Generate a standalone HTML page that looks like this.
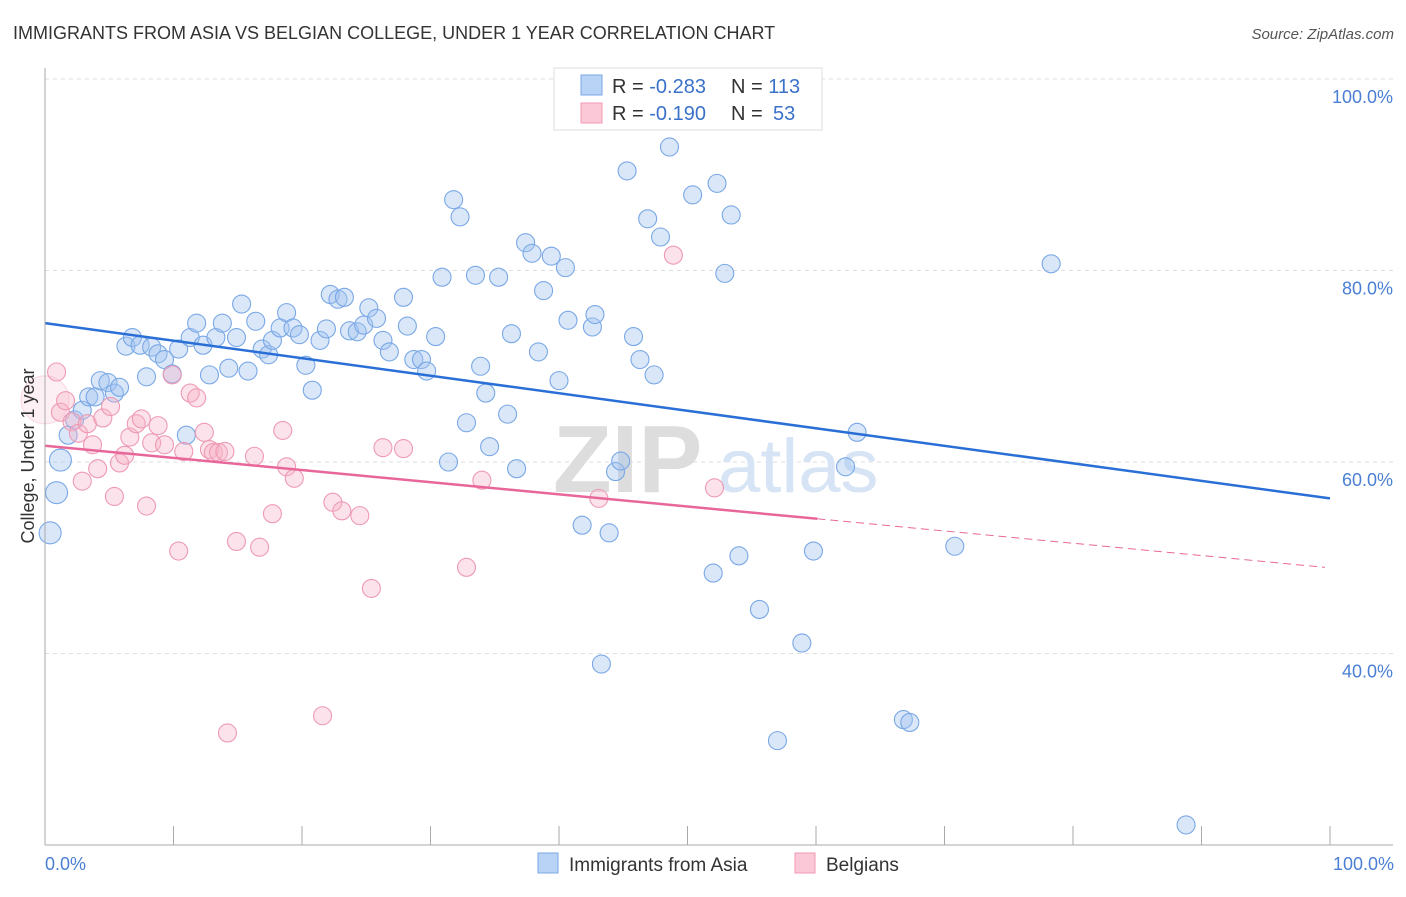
<!DOCTYPE html>
<html><head><meta charset="utf-8"><style>
body{margin:0;background:#fff;font-family:"Liberation Sans",sans-serif}
svg text{font-family:"Liberation Sans",sans-serif}
</style></head><body>
<svg id="chart" width="1406" height="892" xmlns="http://www.w3.org/2000/svg">
<text x="13" y="39" font-size="18" fill="#333">IMMIGRANTS FROM ASIA VS BELGIAN COLLEGE, UNDER 1 YEAR CORRELATION CHART</text>
<text x="1394" y="39" font-size="15" fill="#555" font-style="italic" text-anchor="end">Source: ZipAtlas.com</text>
<g id="grid"></g>
<g><text x="553" y="492" font-size="96" font-family="Liberation Serif" fill="#ddd" font-weight="bold">ZIP</text><text x="718" y="492" font-size="76" fill="#d6e4f5">atlas</text></g>
<g id="marks"></g>
<line x1="45" y1="68" x2="45" y2="845" stroke="#aaa"/>
<line x1="45" y1="845" x2="1393" y2="845" stroke="#aaa"/>
<text transform="translate(34,456) rotate(-90)" font-size="18" fill="#333" text-anchor="middle">College, Under 1 year</text>
<text x="45" y="870" font-size="18" fill="#4a7fd4">0.0%</text>
<text x="1394" y="870" font-size="18" fill="#4a7fd4" text-anchor="end">100.0%</text>
<g>
<rect x="554" y="68" width="268" height="62" fill="#fff" stroke="#ddd"/>
<rect x="581" y="75" width="21" height="20" fill="#b8d3f5" stroke="#7aa8e6"/>
<rect x="581" y="103" width="21" height="20" fill="#fbc8d7" stroke="#f09ab3"/>
<text x="612" y="93" font-size="20" fill="#333">R = <tspan fill="#3a72c9">-0.283</tspan><tspan x="731">N = </tspan><tspan fill="#3a72c9">113</tspan></text>
<text x="612" y="120" font-size="20" fill="#333">R = <tspan fill="#3a72c9">-0.190</tspan><tspan x="731">N = </tspan><tspan x="773" fill="#3a72c9">53</tspan></text>
</g>
<g>
<rect x="538" y="853" width="20" height="20" fill="#b8d3f5" stroke="#7aa8e6"/>
<text x="569" y="871" font-size="19" fill="#333">Immigrants from Asia</text>
<rect x="795" y="853" width="20" height="20" fill="#fbc8d7" stroke="#f09ab3"/>
<text x="826" y="871" font-size="19" fill="#333">Belgians</text>
</g>
</svg>
<script>
const yTicks=[100,80,60,40];
const yTickLabels=["100.0%","80.0%","60.0%","40.0%"];
const xTicks=[0,10,20,30,40,50,60,70,80,90,100];
const asiaX=[0.4,0.9,1.2,1.8,2.3,2.9,3.4,3.9,4.3,4.9,5.4,5.8,6.3,6.8,7.4,7.9,8.3,8.8,9.3,9.9,10.4,11.0,11.3,11.8,12.3,12.8,13.3,13.8,14.3,14.9,15.3,15.8,16.4,16.9,17.4,17.7,18.3,18.8,19.3,19.8,20.3,20.8,21.4,21.9,22.2,22.8,23.3,23.7,24.3,24.8,25.2,25.8,26.3,26.8,27.9,28.2,28.7,29.3,29.7,30.4,30.9,31.4,31.8,32.3,32.8,33.5,33.9,34.3,34.6,35.3,36.0,36.3,36.7,37.4,37.9,38.4,38.8,39.4,40.0,40.5,40.7,41.8,42.6,42.8,43.3,43.9,44.4,44.8,45.3,45.8,46.3,46.9,47.4,47.9,48.6,50.4,52.0,52.3,52.9,53.4,54.0,55.6,57.0,58.9,59.8,62.3,63.2,66.8,67.3,70.8,78.3,88.8];
const asiaY=[52.6,56.8,60.2,62.8,64.4,65.4,66.8,66.8,68.5,68.3,67.2,67.8,72.1,73.0,72.2,68.9,72.0,71.3,70.7,69.2,71.8,62.8,73.0,74.5,72.2,69.1,73.0,74.5,69.8,73.0,76.5,69.5,74.7,71.8,71.2,72.7,74.0,75.6,74.0,73.3,70.1,67.5,72.7,73.9,77.5,77.0,77.2,73.7,73.6,74.3,76.1,75.0,72.7,71.5,77.2,74.2,70.7,70.7,69.5,73.1,79.3,60.0,87.4,85.6,64.1,79.5,70.0,67.2,61.6,79.3,65.0,73.4,59.3,82.9,81.8,71.5,77.9,81.5,68.5,80.3,74.8,53.4,74.1,75.4,38.9,52.6,59.0,60.1,90.4,73.1,70.7,85.4,69.1,83.5,92.9,87.9,48.4,89.1,79.7,85.8,50.2,44.6,30.9,41.1,50.7,59.5,63.1,33.1,32.8,51.2,80.7,22.1];
const belX=[0.0,0.9,1.2,1.6,2.1,2.6,2.9,3.3,3.7,4.1,4.5,5.1,5.4,5.8,6.2,6.6,7.1,7.5,7.9,8.3,8.8,9.3,9.9,10.4,10.8,11.3,11.8,12.4,12.8,13.1,13.5,14.0,14.2,14.9,16.3,16.7,17.7,18.5,18.8,19.4,21.6,22.4,23.1,24.5,25.4,26.3,27.9,32.8,34.0,43.1,48.9,52.1];
const belY=[66.5,69.4,65.2,66.4,64.2,63.0,58.0,64.0,61.8,59.3,64.6,65.8,56.4,59.9,60.7,62.6,64.0,64.5,55.4,62.0,63.8,61.8,69.1,50.7,61.1,67.2,66.7,63.1,61.3,61.0,61.0,61.1,31.7,51.7,60.6,51.1,54.6,63.3,59.5,58.3,33.5,55.8,54.9,54.4,46.8,61.5,61.4,49.0,58.1,56.2,81.6,57.3];
const asiaTrend=[74.5,56.2];
const belTrend=[61.7,49.0];
const belSolidEnd=60.1;
const NS='http://www.w3.org/2000/svg';
const X=v=>45+v*12.85;
const Y=v=>79+(100-v)*9.575;
function mk(tag,attrs,parent){const e=document.createElementNS(NS,tag);for(const k in attrs)e.setAttribute(k,attrs[k]);parent.appendChild(e);return e;}
const grid=document.getElementById('grid');
yTicks.forEach((t,i)=>{
  const l=mk('line',{x1:45,x2:1393,y1:Y(t),y2:Y(t),stroke:'#ddd','stroke-dasharray':'4,4'},grid);
  
  
  const tx=mk('text',{x:1393,y:Y(t)+24,'font-size':18,fill:'#4a7fd4','text-anchor':'end'},grid);
  tx.textContent=yTickLabels[i];
  
  
});
xTicks.forEach(t=>{
  const l=mk('line',{x1:X(t),x2:X(t),y1:826,y2:845,stroke:'#aaa'},grid);
  
  
});
const marks=document.getElementById('marks');
asiaX.forEach((x,i)=>{
  const c=mk('circle',{cx:X(x),cy:Y(asiaY[i]),r:(x<1.5?11:9),fill:'rgba(160,196,240,0.4)',stroke:'#7aa8e6','stroke-width':1.1},marks);
  
  
});
belX.forEach((x,i)=>{
  const big=i===0;
  const c=mk('circle',{cx:X(x),cy:Y(belY[i]),r:(big?24:9),fill:big?'rgba(246,178,200,0.2)':'rgba(246,178,200,0.38)',stroke:big?'rgba(235,145,173,0.3)':'#ee9ab4','stroke-width':1.1},marks);
  
  
});
const at=mk('line',{x1:X(0),y1:Y(asiaTrend[0]),x2:X(100),y2:Y(asiaTrend[1]),stroke:'#2a6fd6','stroke-width':2.5},marks);


const bm=belTrend[0]+(belTrend[1]-belTrend[0])*belSolidEnd/100;
const bt=mk('line',{x1:X(0),y1:Y(belTrend[0]),x2:X(belSolidEnd),y2:Y(bm),stroke:'#e8679a','stroke-width':2.5},marks);


const bd=mk('line',{x1:X(belSolidEnd),y1:Y(bm),x2:X(99.6),y2:Y(belTrend[1]),stroke:'#e8679a','stroke-width':1,'stroke-dasharray':'8,5'},marks);


</script>
</body></html>
